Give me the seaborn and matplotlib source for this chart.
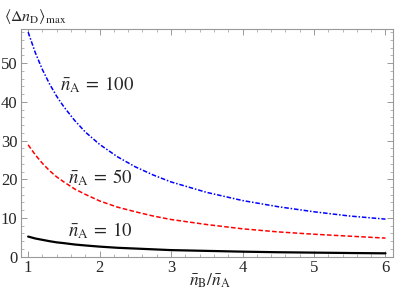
import matplotlib
matplotlib.use("Agg")
import numpy as np
import pandas as pd
import seaborn as sns
from matplotlib import pyplot as plt
from matplotlib.ticker import MultipleLocator

sns.set_style("ticks")
plt.rcParams["font.family"] = ["Liberation Serif", "DejaVu Serif"]
plt.rcParams["mathtext.fontset"] = "stix"

# values
ratio = [1.0, 1.1, 1.2, 1.3, 1.4, 1.5, 1.65, 1.8, 2.0, 2.25, 2.5, 2.75,
         3.0, 3.5, 4.0, 4.5, 5.0, 5.5, 6.0]
na_100 = [58.0, 52.7, 48.3, 44.6, 41.4, 38.7, 35.2, 32.2, 29.0, 25.8, 23.2, 21.1,
          19.3, 16.6, 14.5, 12.9, 11.6, 10.5, 9.7]
na_50 = [28.9, 26.3, 24.1, 22.2, 20.6, 19.3, 17.5, 16.1, 14.4, 12.8, 11.6, 10.5,
         9.6, 8.3, 7.2, 6.4, 5.8, 5.3, 4.8]
na_10 = [5.2, 4.7, 4.35, 4.0, 3.7, 3.5, 3.15, 2.9, 2.6, 2.3, 2.1, 1.9,
         1.7, 1.5, 1.3, 1.15, 1.05, 0.95, 0.87]

df = pd.DataFrame({"ratio": ratio, "100": na_100, "50": na_50, "10": na_10})

fig = plt.figure(figsize=(3.99, 2.99), dpi=100)
ax = fig.add_axes([0.0526, 0.1415, 0.9314, 0.7615])

sns.lineplot(data=df, x="ratio", y="10", ax=ax, color="black", lw=1.6)
sns.lineplot(data=df, x="ratio", y="50", ax=ax, color="red", lw=1.1,
             linestyle=(0, (3, 1.5)))
sns.lineplot(data=df, x="ratio", y="100", ax=ax, color="blue", lw=1.1,
             linestyle=(0, (3, 1.2, 1, 1.2)))

ax.set_xlim(0.9, 6.1)
ax.set_ylim(0, 58.8)
ax.xaxis.set_major_locator(MultipleLocator(1))
ax.xaxis.set_minor_locator(MultipleLocator(0.2))
ax.yaxis.set_major_locator(MultipleLocator(10))
ax.yaxis.set_minor_locator(MultipleLocator(2))
ax.tick_params(which="both", direction="in", top=True, right=True,
               color="#999999", labelsize=12, pad=2.5)
ax.tick_params(which="major", length=4, width=0.7)
ax.tick_params(which="minor", length=2, width=0.5)
for s in ax.spines.values():
    s.set_color("#999999")
    s.set_linewidth(0.8)
ax.set_xlabel("")
ax.set_ylabel("")

lab_kw = dict(fontsize=13.5, va="center")
ax.text(1.44, 44.4, r"$\bar{n}_\mathrm{A}\:=\:100$", **lab_kw)
ax.text(1.56, 20.3, r"$\bar{n}_\mathrm{A}\:=\:50$", **lab_kw)
ax.text(1.56, 6.6, r"$\bar{n}_\mathrm{A}\:=\:10$", **lab_kw)

fig.text(0.01, 0.945, r"$\langle\Delta n_\mathrm{D}\rangle_\mathrm{max}$",
         fontsize=11.5, va="center", ha="left")
fig.text(0.526, 0.06, r"$\bar{n}_\mathrm{B}/\bar{n}_\mathrm{A}$",
         fontsize=12.5, va="center", ha="center")

fig.savefig("out.png", dpi=100)
